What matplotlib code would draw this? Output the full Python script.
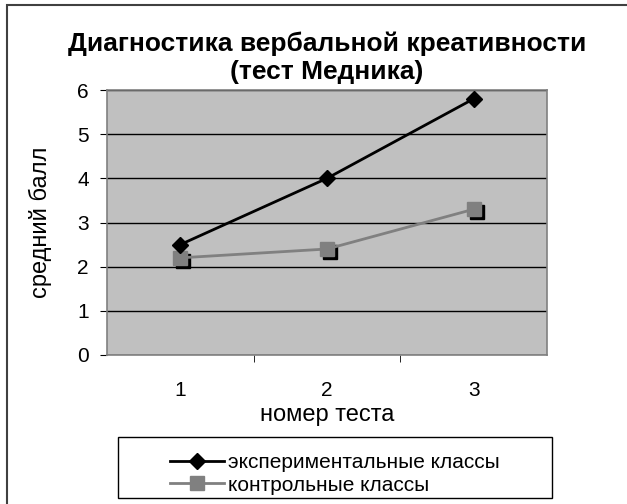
import matplotlib
matplotlib.use("Agg")
import matplotlib.pyplot as plt
from matplotlib.patches import Rectangle
from matplotlib.transforms import offset_copy

plt.rcParams['font.family'] = ['Liberation Sans', 'DejaVu Sans']

tests = [1, 2, 3]
experimental = [2.5, 4.0, 5.8]
control = [2.2, 2.4, 3.3]
title = "Диагностика вербальной креативности\n(тест Медника)"
labels = ["экспериментальные классы", "контрольные классы"]

W, H = 627, 504
fig = plt.figure(figsize=(W / 100, H / 100), dpi=100)

# outer chart frame (right/bottom edges run off the image)
fig.patches.append(Rectangle((7 / W, -0.05), 1.2, 1 - 5 / H + 0.05, transform=fig.transFigure,
                             fill=False, edgecolor='#404040', linewidth=1.5))

ax = fig.add_axes([107 / W, 1 - 355 / H, 440 / W, 265 / H])
ax.set_facecolor('#c0c0c0')
for s in ax.spines.values():
    s.set_color('#808080')
    s.set_linewidth(1.2)

ax.set_xlim(0.5, 3.5)
ax.set_ylim(0, 6)
ax.set_yticks(range(7))
ax.set_xticks(tests)
ax.set_xticks([1.5, 2.5], minor=True)
ax.tick_params(axis='x', which='major', length=0, pad=19, labelsize=15)
ax.tick_params(axis='x', which='minor', length=5, color='black')
ax.tick_params(axis='y', length=5, color='black', labelsize=15, pad=8)
ax.grid(axis='y', color='black', linewidth=1)
ax.set_axisbelow(True)

ax.plot(tests, experimental, color='black', linewidth=2, marker='D', markersize=8,
        label=labels[0], zorder=4)
shadow = offset_copy(ax.transData, fig=fig, x=3, y=-3, units='dots')
ax.plot(tests, control, linestyle='none', marker='s', markersize=10, color='black',
        transform=shadow, zorder=3)
ax.plot(tests, control, color='#808080', linewidth=2, marker='s', markersize=10,
        label=labels[1], zorder=3.5)

ax.set_xlabel("номер теста", fontsize=17)
ax.xaxis.set_label_coords(0.5, -(404 - 355) / 265)
ax.set_ylabel("средний балл", fontsize=17)
ax.yaxis.set_label_coords((52 - 107) / 440, 0.5)
fig.text(327 / W, 1 - 58 / H, title, ha='center', va='center', fontsize=19,
         fontweight='bold', linespacing=1.2)

# legend box
fig.patches.append(Rectangle((118 / W, 1 - 498 / H), 434 / W, 61 / H, transform=fig.transFigure,
                             fill=False, edgecolor='black', linewidth=1))
fig.legend(loc='center', bbox_to_anchor=(335 / W, 1 - 474 / H), frameon=False, fontsize=15,
           handlelength=2.6, handletextpad=0.2, labelspacing=0.15, borderpad=0)

fig.savefig("out.png", dpi=100)
